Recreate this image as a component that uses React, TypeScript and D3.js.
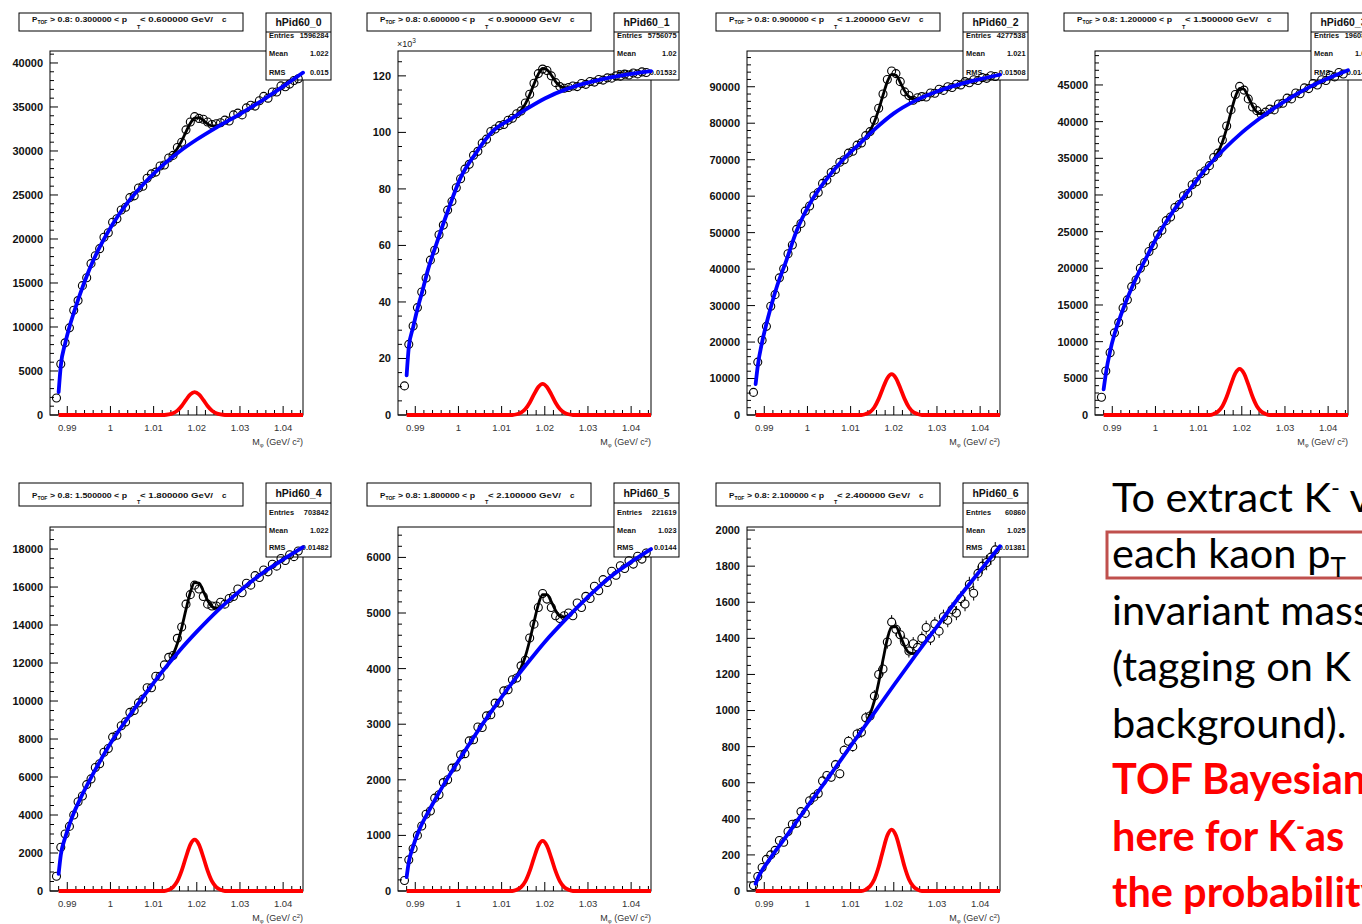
import React from 'react';
import * as d3 from 'd3';

// bin centres of the invariant-mass histograms (1 MeV bins)
const BIN_X = d3.range(57).map((i) => 0.9875 + i * 0.001);
// masses where the background fit (blue) was read
const BG_X = [0.988, 0.9885, 0.9895, 0.9905, 0.9915, 0.993, 0.995, 0.9975, 1.0005, 1.004, 1.008, 1.012, 1.016, 1.02, 1.025, 1.03, 1.035, 1.04, 1.0446];
// masses where the signal (red) and total (black) fits were read
const SIG_X = [1.0135, 1.0145, 1.0155, 1.0165, 1.0175, 1.0185, 1.0195, 1.0205, 1.0215, 1.0225, 1.0235, 1.0245, 1.0255];

const X_DOMAIN = [0.986, 1.0446];
const X_TICKS = [0.99, 1, 1.01, 1.02, 1.03, 1.04];
const X_TICK_LABELS = ['0.99', '1', '1.01', '1.02', '1.03', '1.04'];

const HIST_NAMES = ['hPid60_0', 'hPid60_1', 'hPid60_2', 'hPid60_3', 'hPid60_4', 'hPid60_5', 'hPid60_6'];
const PT_LO = ['0.300000', '0.600000', '0.900000', '1.200000', '1.500000', '1.800000', '2.100000'];
const PT_HI = ['0.600000', '0.900000', '1.200000', '1.500000', '1.800000', '2.100000', '2.400000'];
const ENTRIES = ['1596284', '5756075', '4277538', '1960842', '703842', '221619', '60860'];
const MEANS = ['1.022', '1.02', '1.021', '1.022', '1.022', '1.023', '1.025'];
const RMS_VALS = ['0.015', '0.01532', '0.01508', '0.01447', '0.01482', '0.0144', '0.01381'];

const Y_MAX = [41360, 128.8, 99800, 49630, 19160, 6547, 2017];
const Y_TICKS_0 = [0, 5000, 10000, 15000, 20000, 25000, 30000, 35000, 40000];
const Y_TICKS_1 = [0, 20, 40, 60, 80, 100, 120];
const Y_TICKS_2 = [0, 10000, 20000, 30000, 40000, 50000, 60000, 70000, 80000, 90000];
const Y_TICKS_3 = [0, 5000, 10000, 15000, 20000, 25000, 30000, 35000, 40000, 45000];
const Y_TICKS_4 = [0, 2000, 4000, 6000, 8000, 10000, 12000, 14000, 16000, 18000];
const Y_TICKS_5 = [0, 1000, 2000, 3000, 4000, 5000, 6000];
const Y_TICKS_6 = [0, 200, 400, 600, 800, 1000, 1200, 1400, 1600, 1800, 2000];
const Y_TICKS = [Y_TICKS_0, Y_TICKS_1, Y_TICKS_2, Y_TICKS_3, Y_TICKS_4, Y_TICKS_5, Y_TICKS_6];
const Y_MINOR = [1000, 5, 2000, 1000, 500, 200, 50];
const Y_EXPONENT = ['', '3', '', '', '', '', ''];
const COUNT_UNIT = [1, 1000, 1, 1, 1, 1, 1];

// measured counts
const COUNTS_0 = [1930, 5800, 8200, 9900, 11900, 13000, 14700, 15600, 17200, 18100, 18900, 20200, 20700, 21900, 22300, 23300, 23600, 24700, 24900, 25800, 26000, 26900, 27400, 27600, 28300, 28400, 29200, 29500, 30400, 31000, 32400, 33300, 33900, 33700, 33600, 33300, 33000, 33100, 33200, 33500, 33400, 34100, 34300, 34100, 34900, 35200, 35100, 35700, 36200, 36000, 36700, 36700, 37400, 37300, 37600, 38000, 38200];
const COUNTS_1 = [10.3, 25, 31.5, 38, 43.5, 48.5, 54.8, 58.3, 63.8, 67.2, 72.5, 75.6, 80.4, 83.6, 87, 88.7, 91.9, 93.3, 96.2, 97.6, 100.3, 101.2, 102.4, 102.8, 104.3, 105.0, 106.6, 107.6, 110.4, 113.5, 117.4, 120.8, 122.4, 121.9, 120.0, 117.6, 116.2, 115.6, 115.9, 116.4, 116.2, 117.3, 117.0, 118.0, 117.8, 118.7, 118.5, 119.3, 119.2, 120.0, 119.9, 120.6, 120.3, 121.0, 120.7, 121.4, 121.2];
const COUNTS_2 = [6200, 14500, 20500, 24300, 29800, 33000, 37600, 40100, 44200, 46600, 50900, 52500, 55900, 57300, 60100, 61000, 63500, 64400, 66500, 67300, 69300, 70000, 71800, 72300, 74000, 74600, 76600, 77700, 80800, 84100, 88000, 92000, 94300, 93600, 91400, 88600, 87600, 86300, 87000, 87300, 87200, 88300, 88200, 89300, 89000, 90000, 89800, 90700, 90500, 91400, 91100, 91900, 91700, 92500, 92300, 93000, 92800];
const COUNTS_3 = [2430, 6000, 8500, 11200, 12600, 14600, 15700, 17500, 18400, 20000, 20800, 22300, 23100, 24600, 25200, 26500, 27000, 28300, 28700, 29900, 30200, 31400, 31800, 32900, 33300, 34000, 35100, 35700, 37500, 39400, 41600, 43700, 44800, 44300, 43100, 42000, 41500, 41000, 41300, 41700, 41600, 42400, 42500, 43200, 43100, 43900, 43800, 44600, 44500, 45200, 45000, 45700, 45600, 46300, 46100, 46700, 46500];
const COUNTS_4 = [780, 2300, 3000, 3400, 4000, 4700, 5000, 5600, 5900, 6500, 6700, 7300, 7500, 8100, 8200, 8700, 8900, 9400, 9500, 9900, 10100, 10700, 10700, 11300, 11300, 11900, 12300, 12400, 13300, 13900, 15100, 15600, 16100, 15900, 15500, 15100, 15000, 15000, 15200, 15100, 15400, 15500, 15900, 15700, 16200, 16100, 16600, 16500, 16900, 16800, 17200, 17100, 17500, 17400, 17700, 17600, 17900];
const COUNTS_5 = [190, 560, 760, 1000, 1170, 1380, 1440, 1670, 1730, 1950, 2000, 2210, 2230, 2450, 2470, 2700, 2720, 2950, 2940, 3150, 3170, 3380, 3380, 3600, 3620, 3800, 3830, 4050, 4150, 4550, 4800, 5100, 5350, 5250, 5100, 4950, 4900, 4950, 5000, 4950, 5180, 5100, 5300, 5260, 5480, 5400, 5600, 5550, 5750, 5680, 5850, 5800, 5940, 5880, 6020, 5970, 6080];
const COUNTS_6 = [30, 80, 130, 175, 200, 225, 280, 270, 330, 370, 375, 440, 430, 500, 520, 540, 610, 640, 630, 700, 650, 780, 830, 800, 870, 880, 960, 970, 1080, 1200, 1230, 1380, 1490, 1450, 1420, 1380, 1330, 1370, 1350, 1400, 1460, 1400, 1480, 1440, 1520, 1500, 1560, 1540, 1620, 1590, 1700, 1650, 1760, 1800, 1820, 1850, 1890];
const COUNTS = [COUNTS_0, COUNTS_1, COUNTS_2, COUNTS_3, COUNTS_4, COUNTS_5, COUNTS_6];

// background fit (blue) at BG_X
const BG_0 = [2600, 5600, 8100, 10000, 11600, 13800, 16400, 19070, 21680, 24150, 26420, 28340, 29940, 31300, 32800, 34200, 35700, 37340, 38900];
const BG_1 = [14, 24, 31, 37.5, 43, 51.7, 61, 72, 84, 92.6, 100.5, 104.6, 108.5, 112, 115.3, 117.6, 119.4, 120.7, 121.7];
const BG_2 = [8500, 13500, 20000, 25000, 29500, 35500, 42000, 50500, 57800, 64000, 69700, 74300, 78800, 82700, 86200, 88700, 90600, 92100, 93300];
const BG_3 = [3500, 5600, 8700, 11000, 12800, 15200, 18000, 21000, 24400, 27700, 30800, 33800, 36300, 38500, 40800, 42800, 44500, 45900, 47000];
const BG_4 = [900, 1900, 2800, 3500, 4100, 4850, 5750, 6800, 7950, 9100, 10350, 11550, 12650, 13650, 14800, 15800, 16700, 17450, 18100];
const BG_5 = [250, 520, 800, 1020, 1200, 1420, 1700, 2030, 2400, 2820, 3270, 3700, 4100, 4480, 4900, 5290, 5640, 5920, 6150];
const BG_6 = [40, 70, 115, 150, 185, 235, 300, 385, 485, 600, 735, 870, 1005, 1140, 1305, 1465, 1625, 1775, 1910];
const BG = [BG_0, BG_1, BG_2, BG_3, BG_4, BG_5, BG_6];

// signal fit (red) at SIG_X
const SIG_0 = [60, 200, 500, 1030, 1720, 2350, 2600, 2350, 1720, 1030, 500, 200, 60];
const SIG_1 = [0.26, 0.84, 2.1, 4.35, 7.3, 9.9, 11, 9.9, 7.3, 4.35, 2.1, 0.84, 0.26];
const SIG_2 = [270, 850, 2140, 4420, 7410, 10100, 11200, 10100, 7410, 4420, 2140, 850, 270];
const SIG_3 = [150, 480, 1200, 2490, 4170, 5680, 6300, 5680, 4170, 2490, 1200, 480, 150];
const SIG_4 = [65, 205, 515, 1070, 1790, 2440, 2700, 2440, 1790, 1070, 515, 205, 65];
const SIG_5 = [22, 68, 172, 356, 596, 812, 900, 812, 596, 356, 172, 68, 22];
const SIG_6 = [8, 26, 65, 134, 225, 307, 340, 307, 225, 134, 65, 26, 8];
const SIG = [SIG_0, SIG_1, SIG_2, SIG_3, SIG_4, SIG_5, SIG_6];

// total fit (black) at SIG_X
const TOT_0 = [29030, 29590, 30270, 31140, 32170, 33140, 33730, 33800, 33470, 33080, 32850, 32850, 33000];
const TOT_1 = [106.4, 107.8, 110.1, 113.3, 117.1, 120.6, 122.6, 122.2, 120.3, 118.0, 116.4, 115.8, 115.8];
const TOT_2 = [76260, 77960, 80380, 83710, 87670, 91340, 93410, 93150, 91160, 88870, 87290, 86700, 86720];
const TOT_3 = [34890, 35840, 37190, 39070, 41300, 43360, 44530, 44410, 43360, 42140, 41310, 41050, 41150];
const TOT_4 = [12025, 12445, 13025, 13850, 14820, 15720, 16230, 16210, 15790, 15300, 14975, 14895, 14965];
const TOT_5 = [3872, 4018, 4222, 4506, 4836, 5152, 5330, 5332, 5206, 5046, 4942, 4928, 4962];
const TOT_6 = [929, 980, 1053, 1156, 1281, 1396, 1463, 1464, 1415, 1357, 1321, 1315, 1329];
const TOT = [TOT_0, TOT_1, TOT_2, TOT_3, TOT_4, TOT_5, TOT_6];

const STAT_LABELS = ['Entries', 'Mean', 'RMS'];

// slide text on the right
const NOTE_LINES = [
  { parts: [{ t: 'To extract K' }, { t: '-', sup: true }, { t: ' v' }], red: false },
  { parts: [{ t: 'each kaon p' }, { t: 'T', sub: true }], red: false },
  { parts: [{ t: 'invariant mass' }], red: false },
  { parts: [{ t: '(tagging on K' }], red: false },
  { parts: [{ t: 'background).' }], red: false },
  { parts: [{ t: 'TOF Bayesian' }], red: true },
  { parts: [{ t: 'here for K' }, { t: '-', sup: true }, { t: 'as' }], red: true },
  { parts: [{ t: 'the probability' }], red: true },
];

const COL_X = [0, 348, 697, 1045];
const PANEL_COL = [0, 1, 2, 3, 0, 1, 2];
const PANEL_ROW = [0, 0, 0, 0, 1, 1, 1];
const ROWS = [
  { titleTop: 13, titleH: 18, mainDy: 8.5, subDy: 15.5, statsTop: 13, statsSep: 32, statsRows: [35, 53.5, 72], statsBottom: 80, frameTop: 51, frameBottom: 415 },
  { titleTop: 483, titleH: 23, mainDy: 14.5, subDy: 21, statsTop: 483, statsSep: 503, statsRows: [512, 530, 547], statsBottom: 557, frameTop: 527, frameBottom: 891 },
];

const FONT = "'Liberation Sans', Arial, Helvetica, sans-serif";

function Panel({ i }: { i: number }) {
  const g = ROWS[PANEL_ROW[i]];
  const ox = COL_X[PANEL_COL[i]];
  const left = ox + 50;
  const right = ox + 303;
  const x = d3.scaleLinear().domain(X_DOMAIN).range([left, right]);
  const y = d3.scaleLinear().domain([0, Y_MAX[i]]).range([g.frameBottom, g.frameTop]);

  const bgLine = d3.line<number[]>().x((d) => x(d[0])).y((d) => y(d[1])).curve(d3.curveMonotoneX);
  const fitLine = d3.line<number[]>().x((d) => x(d[0])).y((d) => y(d[1])).curve(d3.curveMonotoneX);

  const bgPts = BG_X.map((m, k) => [m, BG[i][k]]);
  const totPts = SIG_X.map((m, k) => [m, TOT[i][k]]);
  const sigPts = [[0.988, 0], [1.0125, 0], ...SIG_X.map((m, k) => [m, SIG[i][k]]), [1.0265, 0], [X_DOMAIN[1], 0]];

  const majors = Y_TICKS[i];
  const yMinor = d3.range(0, Y_MAX[i], Y_MINOR[i]).filter((v) => !majors.some((t) => Math.abs(t - v) < 1e-6));
  const xMinor = d3.range(493, 523).map((k) => k * 0.002).filter((v) => !X_TICKS.some((t) => Math.abs(t - v) < 1e-7) && v > X_DOMAIN[0] + 1e-6);

  const tl = ox + 19;
  const sl = ox + 266;
  const sr = ox + 331;
  const r = 4;

  return (
    <g fontFamily={FONT}>
      {/* frame */}
      <rect x={left} y={g.frameTop} width={right - left} height={g.frameBottom - g.frameTop} fill="#fff" stroke="#000" strokeWidth={1} />

      {/* y axis ticks and labels */}
      {majors.map((v) => (
        <g key={'ym' + v}>
          <line x1={left} x2={left + 8} y1={y(v)} y2={y(v)} stroke="#000" strokeWidth={1} />
          <text x={left - 7} y={y(v)} dy="0.36em" textAnchor="end" fontSize={11} fontWeight="bold" fill="#111">{v}</text>
        </g>
      ))}
      {yMinor.map((v) => (
        <line key={'yn' + v} x1={left} x2={left + 4} y1={y(v)} y2={y(v)} stroke="#000" strokeWidth={1} />
      ))}
      {Y_EXPONENT[i] && (
        <text x={left - 1} y={g.frameTop - 4} fontSize={9} fill="#222">
          ×10<tspan dy={-4} fontSize={6.5}>{Y_EXPONENT[i]}</tspan>
        </text>
      )}

      {/* x axis ticks and labels */}
      {X_TICKS.map((v, k) => (
        <g key={'xm' + v}>
          <line x1={x(v)} x2={x(v)} y1={g.frameBottom} y2={g.frameBottom - 9} stroke="#000" strokeWidth={1} />
          <text x={x(v)} y={g.frameBottom + 16} textAnchor="middle" fontSize={9.5} fill="#333">{X_TICK_LABELS[k]}</text>
        </g>
      ))}
      {xMinor.map((v) => (
        <line key={'xn' + v} x1={x(v)} x2={x(v)} y1={g.frameBottom} y2={g.frameBottom - 5} stroke="#000" strokeWidth={1} />
      ))}
      <text x={right} y={g.frameBottom + 29.5} textAnchor="end" fontSize={9} fill="#333">
        M<tspan dy={2} fontSize={6}>φ</tspan><tspan dy={-2}> (GeV/ c</tspan><tspan dy={-3} fontSize={6}>2</tspan><tspan dy={3}>)</tspan>
      </text>

      {/* title box */}
      <rect x={tl} y={g.titleTop} width={224} height={g.titleH} fill="#fff" stroke="#000" strokeWidth={1} />
      <text fontSize={8} fontWeight="bold" fill="#111">
        <tspan x={tl + 13} y={g.titleTop + g.mainDy}>P</tspan>
        <tspan x={tl + 18.5} y={g.titleTop + g.mainDy + 2} fontSize={5}>TOF</tspan>
        <tspan x={tl + 31} y={g.titleTop + g.mainDy} textLength={77} lengthAdjust="spacingAndGlyphs">{`> 0.8: ${PT_LO[i]} < p`}</tspan>
        <tspan x={tl + 118} y={g.titleTop + g.subDy} fontSize={5.5}>T</tspan>
        <tspan x={tl + 121} y={g.titleTop + g.mainDy} textLength={73} lengthAdjust="spacingAndGlyphs">{`< ${PT_HI[i]} GeV/`}</tspan>
        <tspan x={tl + 203} y={g.titleTop + g.mainDy}>c</tspan>
      </text>

      {/* stats box */}
      <rect x={sl} y={g.statsTop} width={sr - sl} height={g.statsBottom - g.statsTop} fill="#fff" stroke="#000" strokeWidth={1} />
      <line x1={sl} x2={sr} y1={g.statsSep} y2={g.statsSep} stroke="#000" strokeWidth={1} />
      <text x={(sl + sr) / 2} y={(g.statsTop + g.statsSep) / 2 + 3.5} textAnchor="middle" fontSize={10.5} fontWeight="bold" fill="#111">{HIST_NAMES[i]}</text>
      {[ENTRIES[i], MEANS[i], RMS_VALS[i]].map((v, k) => (
        <g key={'st' + k} fontSize={7.4} fontWeight="bold" fill="#111">
          <text x={sl + 3} y={g.statsRows[k] + 2.6}>{STAT_LABELS[k]}</text>
          <text x={sr - 2.5} y={g.statsRows[k] + 2.6} textAnchor="end">{v}</text>
        </g>
      ))}

      {/* data points with error bars */}
      {COUNTS[i].map((v, k) => {
        const cx = x(BIN_X[k]);
        const cy = y(v);
        const e = Math.sqrt(v * COUNT_UNIT[i]) / COUNT_UNIT[i];
        const h = y(v - e) - cy;
        return (
          <g key={'p' + k}>
            {h > r && (
              <path d={`M${cx},${cy - h}V${cy - r}M${cx},${cy + r}V${cy + h}`} stroke="#000" strokeWidth={1} />
            )}
            <circle cx={cx} cy={cy} r={r} fill="none" stroke="#000" strokeWidth={1.1} />
          </g>
        );
      })}

      {/* fits */}
      <path d={fitLine(totPts) || ''} fill="none" stroke="#000" strokeWidth={2.8} />
      <path d={bgLine(bgPts) || ''} fill="none" stroke="#0000ff" strokeWidth={3.8} strokeLinecap="round" />
      <path d={fitLine(sigPts) || ''} fill="none" stroke="#ff0000" strokeWidth={3.8} />
    </g>
  );
}

function Notes() {
  const x0 = 1112;
  const base0 = 511.5;
  const step = 56.5;
  return (
    <g fontFamily="Lato, 'Open Sans', sans-serif" fontSize={41.5}>
      <rect x={1107} y={532} width={300} height={46} fill="none" stroke="#c0504d" strokeWidth={3} />
      {NOTE_LINES.map((ln, k) => (
        <text key={k} x={x0} y={base0 + k * step} fill={ln.red ? '#ff0000' : '#000'} fontWeight={ln.red ? 'bold' : 'normal'}>
          {ln.parts.map((p: any, j: number) => {
            if (p.sup) return <tspan key={j} dy={-16} fontSize={24}>{p.t}</tspan>;
            if (p.sub) return <tspan key={j} dy={9} fontSize={26}>{p.t}</tspan>;
            const prev: any = ln.parts[j - 1];
            return <tspan key={j} dy={prev && prev.sup ? 16 : 0}>{p.t}</tspan>;
          })}
        </text>
      ))}
    </g>
  );
}

export default function App() {
  return (
    <svg width={1362} height={924} viewBox="0 0 1362 924" style={{ position: 'absolute', left: 0, top: 0, background: '#fff' }}>
      <rect x={0} y={0} width={1362} height={924} fill="#fff" />
      {HIST_NAMES.map((_, i) => (
        <Panel key={i} i={i} />
      ))}
      <Notes />
    </svg>
  );
}
